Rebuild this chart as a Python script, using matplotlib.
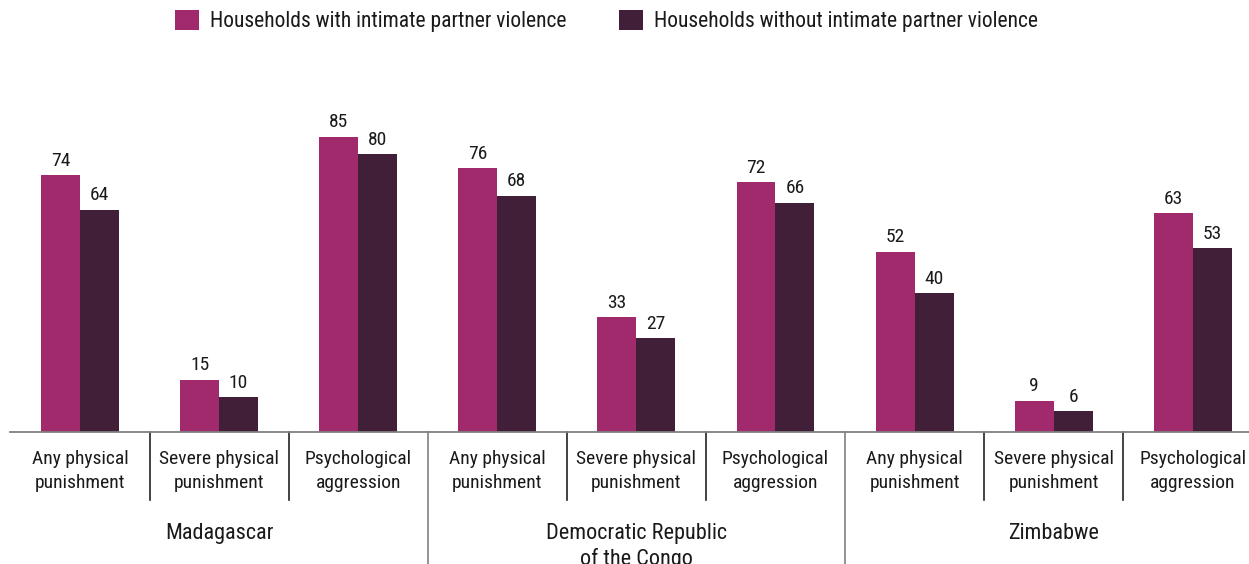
import matplotlib
matplotlib.use("Agg")
import matplotlib.pyplot as plt
from matplotlib.patches import Patch
from matplotlib.transforms import blended_transform_factory
import numpy as np

plt.rcParams["font.family"] = ["Roboto Condensed", "Archivo Narrow", "DejaVu Sans"]

countries = ["Madagascar", "Democratic Republic\nof the Congo", "Zimbabwe"]
measures = ["Any physical\npunishment", "Severe physical\npunishment", "Psychological\naggression"]
series_names = ["Households with intimate partner violence",
                "Households without intimate partner violence"]
with_ipv = [74, 15, 85, 76, 33, 72, 52, 9, 63]
without_ipv = [64, 10, 80, 68, 27, 66, 40, 6, 53]

color_with = "#A12A6C"
color_without = "#421F38"
text_color = "#1a1a1a"
fs = 14

fig = plt.figure(figsize=(12.49, 5.64), dpi=100)
ax = fig.add_axes([10 / 1249, 132 / 564, 1239 / 1249, 347 / 564])

n = len(with_ipv)
x = np.arange(n)
w = 0.28
b1 = ax.bar(x - w / 2, with_ipv, w, color=color_with, label=series_names[0])
b2 = ax.bar(x + w / 2, without_ipv, w, color=color_without, label=series_names[1])

for rect, v in zip(list(b1) + list(b2), with_ipv + without_ipv):
    ax.annotate(str(v), (rect.get_x() + rect.get_width() / 2, v),
                xytext=(0, 4), textcoords="offset points",
                ha="center", va="bottom", fontsize=fs, color=text_color)

ax.set_xlim(-0.503, 8.404)
ax.set_ylim(0, 100)
for s in ["top", "right", "left"]:
    ax.spines[s].set_visible(False)
ax.spines["bottom"].set_color("#808080")
ax.spines["bottom"].set_linewidth(1.3)
ax.set_xticks([])
ax.set_yticks([])

tr = blended_transform_factory(ax.transData, ax.transAxes)

# measure labels under each pair of bars
for i in range(n):
    ax.text(x[i], -0.051, measures[i % 3], transform=tr, ha="center", va="top",
            fontsize=fs, color=text_color, linespacing=1.42)

# separators between measures and between countries
for i in range(n - 1):
    pos = i + 0.5
    if (i + 1) % 3 == 0:
        ax.plot([pos, pos], [0, -0.40], transform=tr, color="#808080",
                lw=1.2, clip_on=False)
    else:
        ax.plot([pos, pos], [0, -0.196], transform=tr, color="#222222",
                lw=1.2, clip_on=False)

# country labels
for j, c in enumerate(countries):
    ax.text(3 * j + 1, -0.262, c, transform=tr, ha="center", va="top",
            fontsize=16, color=text_color, linespacing=1.24)

handles = [Patch(facecolor=color_with), Patch(facecolor=color_without)]
fig.legend(handles, series_names, loc="upper left",
           bbox_to_anchor=(175 / 1249, 1 - 10 / 564), ncol=2, frameon=False,
           fontsize=15.5, handlelength=1.12, handleheight=1.07,
           handletextpad=0.5, columnspacing=2.45, borderpad=0, borderaxespad=0,
           labelcolor=text_color)

fig.savefig("out.png", dpi=100)
